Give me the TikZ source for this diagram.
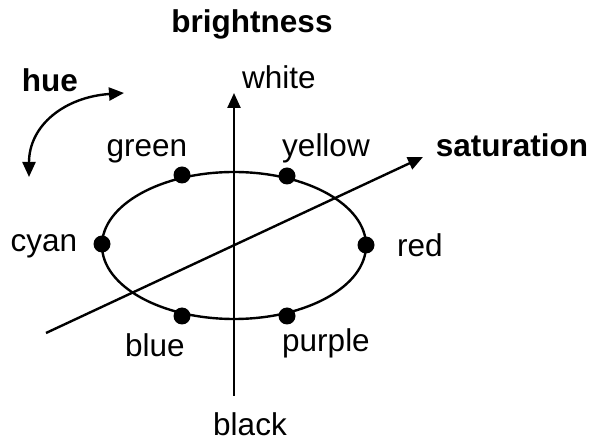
\documentclass[tikz,border=0pt]{standalone}
\usepackage{fontspec}
\setmainfont{Liberation Sans}
\usetikzlibrary{arrows.meta}
\begin{document}
\begin{tikzpicture}[x=1pt,y=-1pt,
  lbl/.style={anchor=base,inner sep=0pt,font=\fontsize{31.5}{36}\selectfont},
  blbl/.style={anchor=base,inner sep=0pt,font=\fontsize{31.5}{36}\selectfont\bfseries},
  tip/.style={-{Triangle[length=15pt,width=13pt]}},
  axis/.style={line width=2.4pt,tip},
  dot/.style={circle,fill=black,inner sep=0pt,minimum size=17pt}]
\useasboundingbox (0,0) rectangle (592,443);
\fill[white] (0,0) rectangle (592,443);
% labels
\node[blbl] (bright) at (252,33) {brightness};
\node[blbl] (hue) at (50,92) {hue};
\node[blbl] (sat) at (512,157) {saturation};
\node[lbl] (white) at (279,89) {white};
\node[lbl] (black) at (250,436) {black};
\node[lbl] (green) at (147,157) {green};
\node[lbl] (yellow) at (326,157) {yellow};
\node[lbl] (cyan) at (44,252) {cyan};
\node[lbl] (red) at (420,257) {red};
\node[lbl] (blue) at (155,357) {blue};
\node[lbl] (purple) at (326,352) {purple};
% ellipse
\coordinate (c) at (234,245.5);
\draw[line width=2.4pt] (c) ellipse [x radius=132, y radius=73.5];
% axes
\coordinate (vb) at (234,396);
\coordinate (vt) at (234,93);
\draw[axis] (vb) -- (vt);
\coordinate (ss) at (46,333);
\coordinate (st) at (423,157);
\draw[axis] (ss) -- (st);
% hue arrow
\coordinate (ha) at (29,177);
\coordinate (hb) at (124,93);
\draw[line width=2.4pt,{Triangle[length=15pt,width=13pt]}-{Triangle[length=15pt,width=13pt]}]
  (ha) .. controls (29,125) and (65,97) .. (hb);
% dots
\node[dot] (dgreen) at (182,175) {};
\node[dot] (dyellow) at (287,176) {};
\node[dot] (dblue) at (182,316) {};
\node[dot] (dpurple) at (287,316) {};
\node[dot] (dcyan) at (102,244) {};
\node[dot] (dred) at (366,245) {};
\end{tikzpicture}
\end{document}
